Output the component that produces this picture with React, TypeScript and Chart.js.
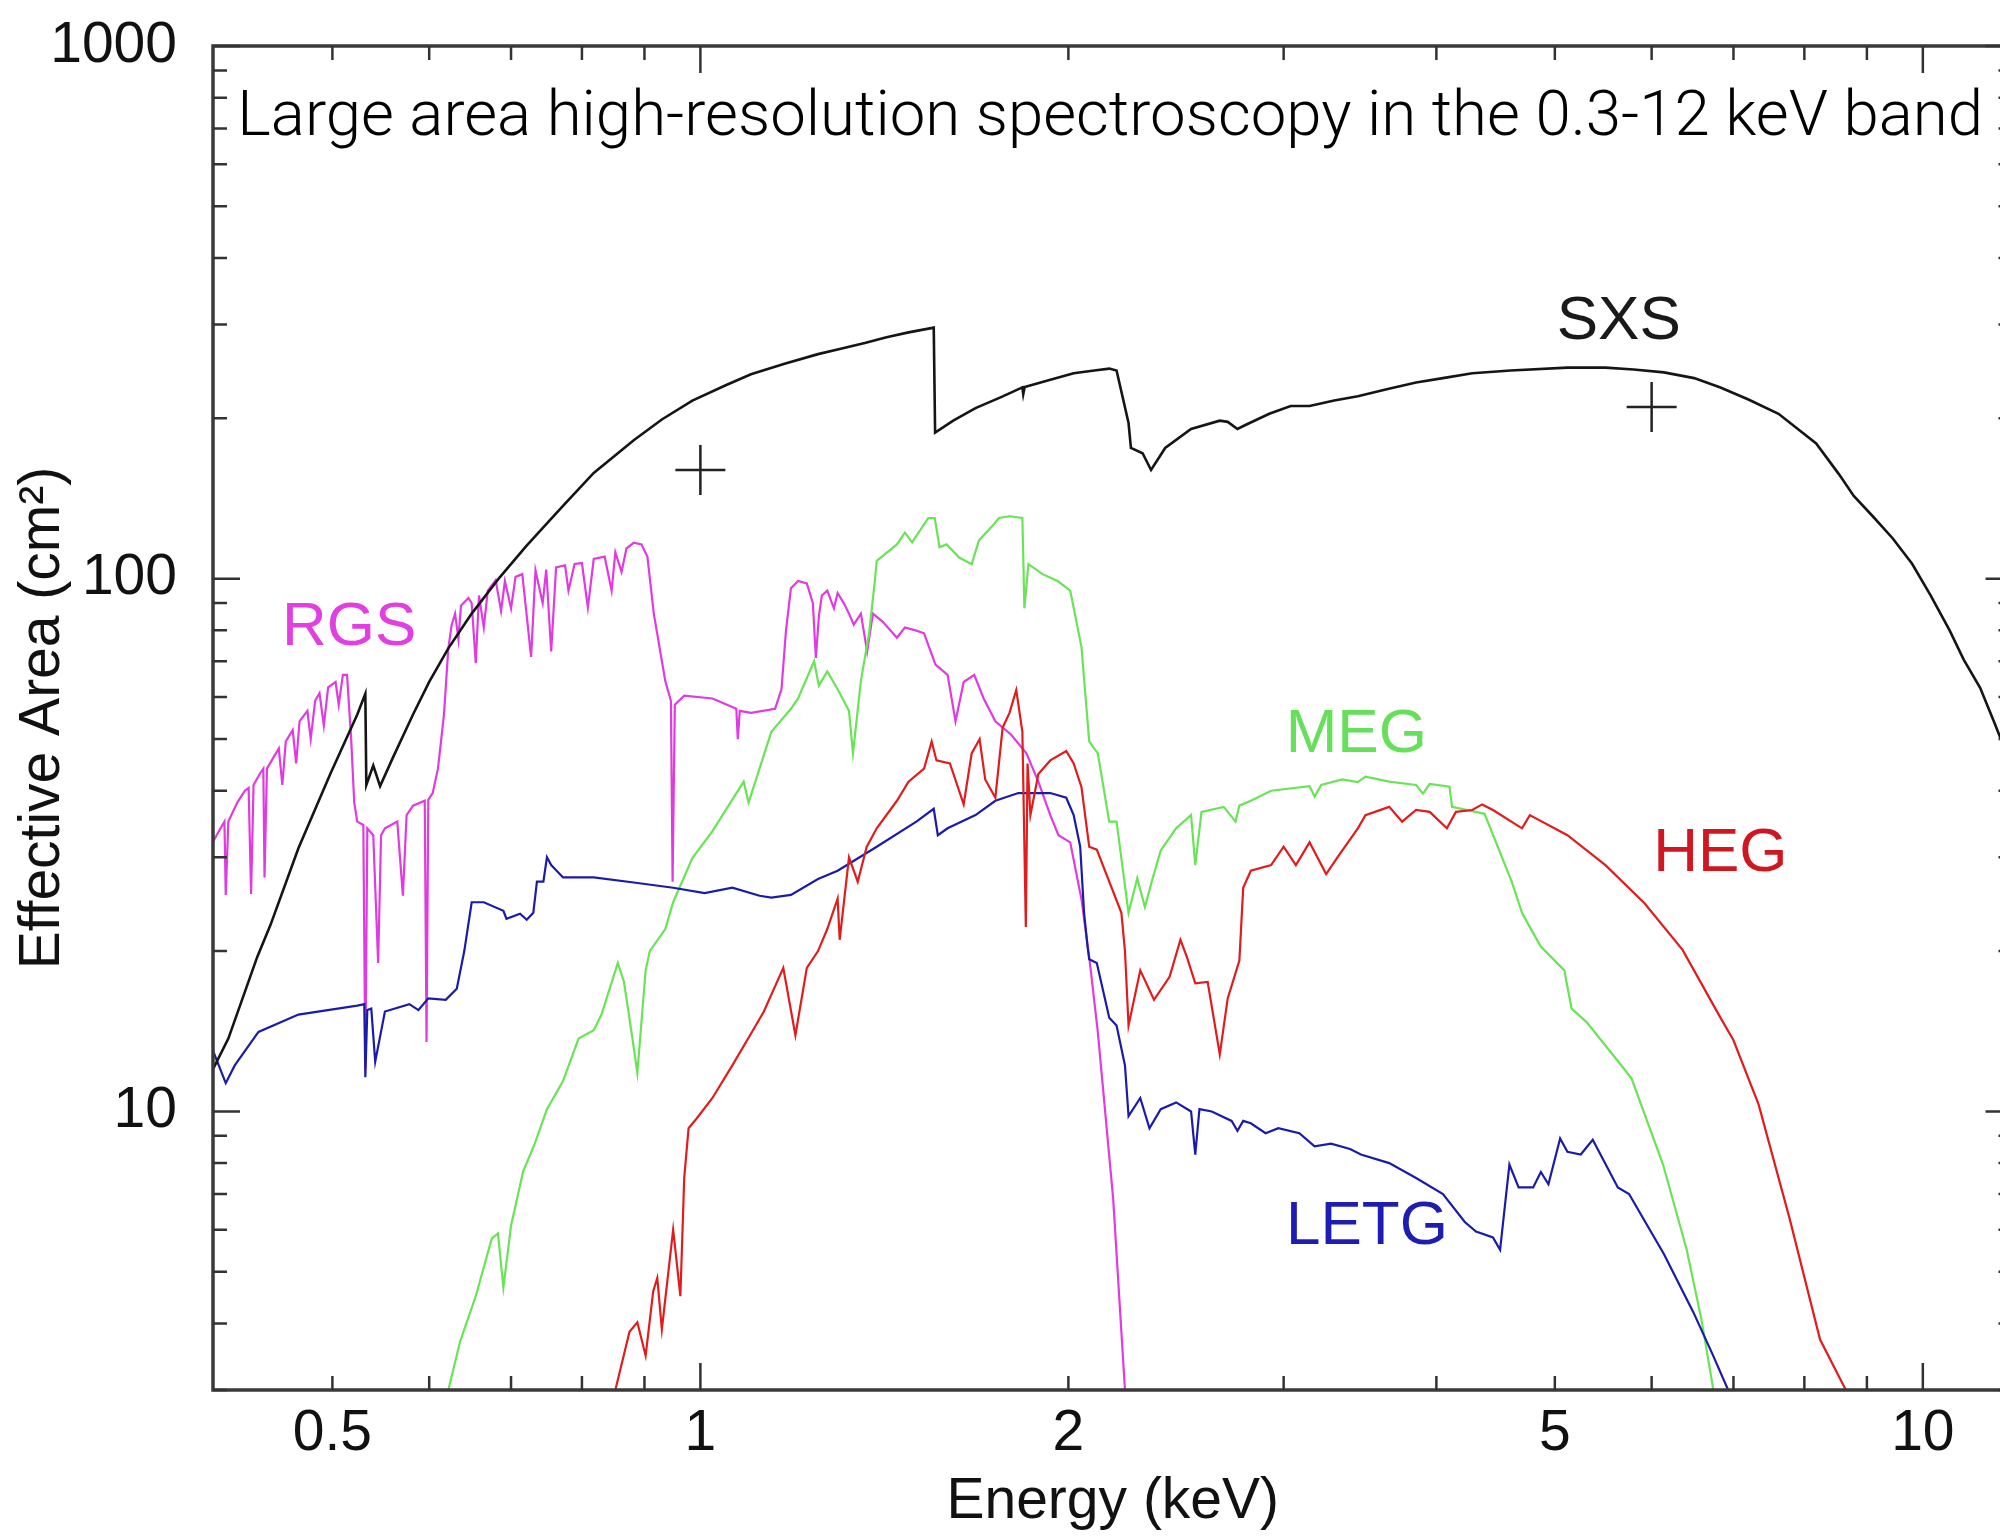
import React, { useEffect, useRef } from 'react';
import { Chart, registerables } from 'chart.js';

Chart.register(...registerables);

// ---------------- data (energy in keV, effective area in cm^2) ----------------
const sxsEnergy = [0.3993, 0.411, 0.434, 0.445, 0.469, 0.498, 0.524, 0.532, 0.533, 0.540,
  0.547, 0.560, 0.582, 0.600, 0.622, 0.650, 0.685, 0.720, 0.749, 0.772,
  0.818, 0.882, 0.930, 0.985, 1.050, 1.10, 1.170, 1.248, 1.300, 1.363,
  1.420, 1.480, 1.552, 1.556, 1.610, 1.679, 1.760, 1.834, 1.837, 1.842,
  1.930, 2.02, 2.10, 2.16, 2.19, 2.24, 2.25, 2.30, 2.337, 2.40,
  2.52, 2.66, 2.70, 2.75, 2.80, 2.92, 3.04, 3.15, 3.30, 3.45,
  3.65, 3.85, 4.05, 4.28, 4.60, 5.12, 5.50, 5.80, 6.14, 6.50,
  6.83, 7.20, 7.62, 8.18, 8.54, 8.78, 9.10, 9.45, 9.80, 10.15,
  10.52, 10.80, 11.14, 11.45, 11.84];
const sxsArea = [12, 13.7, 19.5, 22.4, 31.2, 43, 55.6, 60.8, 41, 44.6,
  40.8, 46, 55.6, 64, 74, 86, 100.5, 115, 127, 137,
  158, 182, 199, 216, 231, 242, 253, 264, 270, 277,
  284, 290, 296, 188, 198, 209, 219, 228.6, 222, 229,
  236, 243, 246, 248, 246, 196, 176, 172, 160, 176,
  191, 198, 197, 191, 195, 204, 211, 211, 216, 220,
  227, 233.5, 238, 243, 246, 249, 249, 247, 244, 238,
  228.6, 217, 204, 179.5, 157, 143, 131, 119, 106.7, 93,
  79.9, 70.5, 62.4, 53.5, 44];

const rgsEnergy = [0.399, 0.405, 0.408, 0.409, 0.411, 0.418, 0.424, 0.427, 0.429, 0.431,
  0.436, 0.439, 0.440, 0.442, 0.447, 0.452, 0.455, 0.458, 0.464, 0.467,
  0.470, 0.477, 0.480, 0.484, 0.488, 0.492, 0.496, 0.503, 0.506, 0.510,
  0.514, 0.518, 0.521, 0.524, 0.530, 0.532, 0.534, 0.540, 0.545, 0.548,
  0.552, 0.565, 0.571, 0.575, 0.582, 0.595, 0.597, 0.599, 0.604, 0.610,
  0.617, 0.622, 0.626, 0.630, 0.634, 0.637, 0.646, 0.650, 0.655, 0.659,
  0.665, 0.670, 0.680, 0.687, 0.692, 0.700, 0.706, 0.715, 0.727, 0.733,
  0.743, 0.748, 0.755, 0.762, 0.775, 0.780, 0.789, 0.800, 0.809, 0.818,
  0.835, 0.846, 0.852, 0.862, 0.870, 0.882, 0.895, 0.905, 0.916, 0.936,
  0.946, 0.949, 0.953, 0.970, 1.023, 1.070, 1.073, 1.077, 1.100, 1.151,
  1.165, 1.175, 1.186, 1.202, 1.222, 1.236, 1.243, 1.250, 1.257, 1.270,
  1.286, 1.295, 1.310, 1.323, 1.335, 1.353, 1.369, 1.384, 1.410, 1.448,
  1.470, 1.500, 1.524, 1.557, 1.593, 1.617, 1.642, 1.675, 1.705, 1.743,
  1.795, 1.848, 1.890, 1.933, 1.963, 2.007, 2.050, 2.080, 2.114, 2.176,
  2.225];
const rgsArea = [32, 34, 35, 25.5, 35, 38, 40, 40.5, 25.6, 41,
  43, 44, 27.5, 44, 46, 48, 41, 49.5, 52, 45,
  54, 56.5, 50, 59, 61, 53, 62.5, 64, 58, 66,
  66, 50, 38, 35, 34.5, 12, 34, 33, 19, 33,
  34, 35, 25.4, 36, 37.5, 38.3, 13.5, 38.5, 39.6, 44,
  55.7, 74, 82, 86, 77, 89, 92, 90, 69.4, 93,
  81, 95, 99.4, 87, 99, 88, 100.8, 102, 71.3, 103.6,
  90, 104, 73, 105, 106, 95, 106.6, 107, 88.3, 108.9,
  110, 95, 112, 103, 114, 116.8, 116, 110, 86, 64.3,
  59, 27, 58, 60.3, 59.6, 57, 50, 56.5, 56, 57,
  62, 80, 96, 99, 98, 90, 71, 85, 93, 95,
  88, 94, 90, 86, 82, 86, 73, 86, 83, 77.5,
  81, 80, 79, 69, 66, 54, 64, 66, 59.6, 54,
  51, 47, 41.6, 36, 33, 32, 25, 19.5, 14.1, 6.86,
  3.0];

const megEnergy = [0.622, 0.636, 0.655, 0.675, 0.683, 0.690, 0.700, 0.716, 0.732, 0.749,
  0.772, 0.795, 0.818, 0.830, 0.856, 0.866, 0.882, 0.888, 0.902, 0.909,
  0.936, 0.950, 0.985, 1.023, 1.085, 1.095, 1.143, 1.186, 1.202, 1.232,
  1.239, 1.250, 1.270, 1.295, 1.323, 1.333, 1.353, 1.374, 1.389, 1.394,
  1.448, 1.470, 1.490, 1.536, 1.555, 1.569, 1.590, 1.628, 1.667, 1.690,
  1.730, 1.755, 1.790, 1.834, 1.841, 1.855, 1.905, 1.960, 2.007, 2.050,
  2.080, 2.114, 2.160, 2.190, 2.240, 2.277, 2.310, 2.340, 2.380, 2.450,
  2.520, 2.540, 2.570, 2.680, 2.740, 2.760, 2.820, 2.930, 3.150, 3.180,
  3.220, 3.350, 3.450, 3.500, 3.660, 3.850, 3.900, 3.950, 4.100, 4.120,
  4.380, 4.610, 4.700, 4.790, 4.870, 5.090, 5.160, 5.310, 5.700, 5.780,
  6.130, 6.410, 6.590, 6.740];
const megArea = [3.0, 3.7, 4.5, 5.77, 5.9, 4.67, 6.1, 7.7, 8.7, 10.1,
  11.4, 13.7, 14.2, 15.2, 19, 17.5, 13.2, 11.8, 18.4, 20,
  22, 24.7, 29.9, 33.6, 41.6, 38, 51.6, 57, 59.6, 68,
  70, 63, 67, 62, 56.5, 47, 64.3, 79, 99, 108,
  116, 122, 117, 130, 130, 114.6, 116, 109.6, 106.5, 118,
  125, 130, 131, 130, 88, 106.5, 102, 99, 95, 74.4,
  49.5, 47, 35, 35, 23.6, 27.4, 24.2, 27, 30.9, 34,
  36, 29, 36.5, 37.3, 35, 37.5, 38.3, 40, 40.8, 39,
  41, 42, 41.5, 42.5, 41.6, 41, 39.5, 41.2, 40.7, 37.3,
  36.2, 27, 23.6, 21.8, 20.4, 18.4, 15.6, 14.7, 12.0, 11.5,
  7.95, 5.5, 4.07, 3.0];

const hegEnergy = [0.852, 0.875, 0.888, 0.902, 0.915, 0.922, 0.930, 0.950, 0.963, 0.970,
  0.978, 0.993, 1.023, 1.062, 1.102, 1.127, 1.169, 1.196, 1.222, 1.248,
  1.270, 1.295, 1.300, 1.323, 1.345, 1.368, 1.394, 1.448, 1.480, 1.524,
  1.546, 1.560, 1.600, 1.642, 1.667, 1.692, 1.710, 1.743, 1.767, 1.790,
  1.813, 1.834, 1.846, 1.852, 1.862, 1.890, 1.933, 1.992, 2.020, 2.050,
  2.080, 2.110, 2.160, 2.210, 2.225, 2.240, 2.290, 2.350, 2.420, 2.470,
  2.500, 2.540, 2.600, 2.660, 2.700, 2.760, 2.780, 2.820, 2.930, 3.000,
  3.070, 3.150, 3.250, 3.320, 3.450, 3.500, 3.660, 3.750, 3.850, 3.950,
  4.080, 4.150, 4.280, 4.360, 4.450, 4.700, 4.770, 5.120, 5.500, 5.920,
  6.360, 6.830, 7.000, 7.340, 7.780, 8.240, 8.650];
const hegArea = [3.0, 3.86, 4.02, 3.48, 4.6, 4.87, 3.9, 6.0, 4.5, 7.5,
  9.3, 9.7, 10.6, 12.2, 14.1, 15.4, 18.6, 13.9, 18.6, 20,
  22, 25.1, 21, 30, 27, 31.4, 34, 38.3, 41.6, 44,
  49.5, 45.6, 45, 37.7, 47, 50, 42, 38.8, 52.5, 56,
  61.8, 51.6, 22.2, 45, 36, 43, 45.6, 47.5, 45, 40.6,
  31.4, 31, 27, 23.6, 20, 14.5, 18.4, 16.2, 17.9, 21,
  19.5, 17.4, 17.5, 12.8, 16.3, 19.2, 26.3, 28.3, 29, 31.4,
  29, 32, 27.9, 30, 34, 36, 37.3, 35, 36.8, 36.5,
  34, 36.5, 36.8, 37.7, 36.8, 34, 36, 33, 29, 24.6,
  20.1, 15, 13.6, 10.3, 6.3, 3.73, 3.0];

const letgEnergy = [0.3993, 0.409, 0.416, 0.435, 0.469, 0.524, 0.531, 0.532, 0.534, 0.538,
  0.542, 0.552, 0.578, 0.588, 0.599, 0.619, 0.632, 0.641, 0.650, 0.665,
  0.690, 0.694, 0.712, 0.721, 0.730, 0.735, 0.744, 0.749, 0.755, 0.772,
  0.818, 0.882, 0.950, 1.008, 1.062, 1.118, 1.143, 1.186, 1.248, 1.295,
  1.394, 1.502, 1.552, 1.564, 1.593, 1.679, 1.743, 1.820, 1.933, 1.992,
  2.020, 2.045, 2.060, 2.073, 2.080, 2.110, 2.160, 2.190, 2.225, 2.240,
  2.290, 2.330, 2.380, 2.450, 2.520, 2.540, 2.560, 2.620, 2.720, 2.750,
  2.780, 2.820, 2.900, 2.970, 3.090, 3.180, 3.280, 3.400, 3.470, 3.660,
  3.850, 4.050, 4.220, 4.310, 4.450, 4.510, 4.590, 4.670, 4.800, 4.870,
  4.940, 5.050, 5.120, 5.250, 5.370, 5.630, 5.750, 6.140, 6.490, 6.730, 6.930];
const letgArea = [13, 11.3, 12.2, 14.1, 15.2, 15.8, 15.9, 11.6, 15.5, 15.6,
  12.4, 15.4, 15.9, 15.5, 16.3, 16.2, 17, 20, 24.7, 24.7,
  23.8, 23, 23.5, 22.9, 23.6, 27, 27, 30, 29, 27.5,
  27.5, 26.9, 26.3, 25.7, 26.3, 25.4, 25.2, 25.5, 27.3, 28.3,
  31.4, 35, 37, 33, 34, 36, 38.3, 39.6, 39.6, 38.8,
  36, 31.4, 23.6, 20.5, 19.3, 19, 15, 14.5, 12.2, 9.8,
  10.6, 9.3, 10.1, 10.4, 10, 8.3, 10.1, 10, 9.6, 9.2,
  9.6, 9.5, 9.1, 9.3, 9.1, 8.6, 8.7, 8.5, 8.3, 8.0,
  7.5, 7.0, 6.2, 5.95, 5.8, 5.5, 7.95, 7.2, 7.2, 7.7,
  7.3, 8.9, 8.4, 8.3, 8.85, 7.2, 7.0, 5.4, 4.2, 3.5, 3.0];

const crossEnergy = [1.0, 6.0];
const crossArea = [160, 210];

const labelNames = ['SXS', 'RGS', 'MEG', 'HEG', 'LETG'];
const labelEnergy = [5.64, 0.516, 3.44, 6.83, 3.51];
const labelArea = [304, 80.9, 50.9, 30.5, 6.08];

const titleText = 'Large area high-resolution spectroscopy in the 0.3-12 keV band';
const titleStartEnergy = 0.418;
const titleEndEnergy = 11.2;
const titleArea = 680;

const xTickValues = [0.5, 0.6, 0.7, 0.8, 0.9, 1, 2, 3, 4, 5, 6, 7, 8, 9, 10];
const xTickLabels = ['0.5', '', '', '', '', '1', '2', '', '', '5', '', '', '', '', '10'];
const xMajorTicks = [1, 10];
const yTickValues = [3, 4, 5, 6, 7, 8, 9, 10, 20, 30, 40, 50, 60, 70, 80, 90, 100,
  200, 300, 400, 500, 600, 700, 800, 900, 1000];
const yTickLabels = ['', '', '', '', '', '', '', '10', '', '', '', '', '', '', '', '', '100',
  '', '', '', '', '', '', '', '', '1000'];
const yMajorTicks = [10, 100, 1000];

// ---------------- styles ----------------
const COLORS = {
  sxs: '#151515',
  rgs: '#e03be0',
  meg: '#6ae457',
  heg: '#e01c1c',
  letg: '#1b1bab',
};
const labelColors = ['#1a1a1a', '#e23fe2', '#66e05a', '#d0171f', '#1d1db3'];
const SANS = '"Liberation Sans", Arial, Helvetica, sans-serif';

const W = 2040;
const H = 1539;

const pts = (xs: number[], ys: number[]) => xs.map((x, i) => ({ x, y: ys[i] }));

const labelOf = (vals: number[], labels: string[]) => (v: number) => {
  const i = vals.findIndex((t) => Math.abs(t - v) < 1e-9 * Math.max(1, t));
  return i >= 0 ? labels[i] : '';
};

const framePlugin = {
  id: 'frameAndLabels',
  afterDraw(chart: any) {
    const { ctx, chartArea } = chart;
    const { left, right, top, bottom } = chartArea;
    const xs = chart.scales.x;
    const ys = chart.scales.y;
    ctx.save();

    // curve labels
    ctx.font = `62px ${SANS}`;
    ctx.textAlign = 'center';
    ctx.textBaseline = 'middle';
    labelNames.forEach((name, i) => {
      ctx.fillStyle = labelColors[i];
      ctx.fillText(name, xs.getPixelForValue(labelEnergy[i]), ys.getPixelForValue(labelArea[i]));
    });

    // in-plot title, fitted between its start and end energies
    ctx.save();
    ctx.font = `300 63px Roboto, "Open Sans", ${SANS}`;
    ctx.textAlign = 'left';
    ctx.textBaseline = 'alphabetic';
    ctx.fillStyle = '#000';
    const tx0 = xs.getPixelForValue(titleStartEnergy);
    const tx1 = xs.getPixelForValue(titleEndEnergy);
    const ty = ys.getPixelForValue(titleArea);
    const tw = ctx.measureText(titleText).width || 1;
    ctx.translate(tx0, ty);
    ctx.scale((tx1 - tx0) / tw, 1);
    ctx.fillText(titleText, 0, 0);
    ctx.restore();

    // frame
    ctx.strokeStyle = '#3a3a3a';
    ctx.lineWidth = 3.5;
    ctx.strokeRect(left, top, right - left, bottom - top);

    // inward ticks on all sides
    ctx.lineWidth = 2.5;
    ctx.strokeStyle = '#333';
    ctx.beginPath();
    xTickValues.forEach((v) => {
      const px = xs.getPixelForValue(v);
      const len = xMajorTicks.includes(v) ? 27 : 14;
      ctx.moveTo(px, bottom);
      ctx.lineTo(px, bottom - len);
      ctx.moveTo(px, top);
      ctx.lineTo(px, top + len);
    });
    yTickValues.forEach((v) => {
      const py = ys.getPixelForValue(v);
      const len = yMajorTicks.includes(v) ? 27 : 14;
      ctx.moveTo(left, py);
      ctx.lineTo(left + len, py);
      ctx.moveTo(right, py);
      ctx.lineTo(right - len, py);
    });
    ctx.stroke();
    ctx.restore();
  },
};

export default function App() {
  const canvasRef = useRef<HTMLCanvasElement | null>(null);

  useEffect(() => {
    const canvas = canvasRef.current;
    if (!canvas) return;
    const lineDs = (label: string, xsArr: number[], ysArr: number[], color: string, width: number) => ({
      label,
      data: pts(xsArr, ysArr),
      borderColor: color,
      backgroundColor: color,
      borderWidth: width,
      pointRadius: 0,
      tension: 0,
      fill: false,
    });

    const chart = new Chart(canvas, {
      type: 'line',
      data: {
        datasets: [
          {
            type: 'scatter',
            label: 'markers',
            data: pts(crossEnergy, crossArea),
            pointStyle: 'cross',
            pointRadius: 25,
            borderColor: '#222',
            borderWidth: 2.5,
            showLine: false,
          } as any,
          lineDs('SXS', sxsEnergy, sxsArea, COLORS.sxs, 2.6),
          lineDs('HEG', hegEnergy, hegArea, COLORS.heg, 2.2),
          lineDs('LETG', letgEnergy, letgArea, COLORS.letg, 2.2),
          lineDs('MEG', megEnergy, megArea, COLORS.meg, 2.2),
          lineDs('RGS', rgsEnergy, rgsArea, COLORS.rgs, 2.2),
        ],
      },
      options: {
        responsive: false,
        animation: false,
        devicePixelRatio: 1,
        layout: { padding: { top: 46, right: 22, left: 0, bottom: 0 } },
        plugins: {
          legend: { display: false },
          tooltip: { enabled: false },
          title: { display: false },
        },
        scales: {
          x: {
            type: 'logarithmic',
            min: 0.3993,
            max: 11.84,
            afterBuildTicks: (s: any) => {
              s.ticks = xTickValues.map((v) => ({ value: v }));
            },
            afterFit: (s: any) => {
              s.height = 149;
              s.paddingLeft = 0;
              s.paddingRight = 0;
            },
            grid: { display: false, drawTicks: false },
            border: { display: false },
            ticks: {
              autoSkip: false,
              maxRotation: 0,
              minRotation: 0,
              padding: 10,
              color: '#111',
              font: { family: SANS, size: 57 },
              callback: (v: any) => labelOf(xTickValues, xTickLabels)(Number(v)),
            },
            title: {
              display: true,
              text: 'Energy (keV)',
              color: '#111',
              font: { family: SANS, size: 57 },
              padding: { top: 0, bottom: 3 },
            },
          },
          y: {
            type: 'logarithmic',
            min: 3,
            max: 1000,
            afterBuildTicks: (s: any) => {
              s.ticks = yTickValues.map((v) => ({ value: v }));
            },
            afterFit: (s: any) => {
              s.width = 213;
              s.paddingTop = 0;
              s.paddingBottom = 0;
            },
            grid: { display: false, drawTicks: false },
            border: { display: false },
            ticks: {
              autoSkip: false,
              padding: 36,
              color: '#111',
              font: { family: SANS, size: 57 },
              callback: (v: any) => labelOf(yTickValues, yTickLabels)(Number(v)),
            },
            title: {
              display: true,
              text: 'Effective Area (cm²)',
              color: '#111',
              font: { family: SANS, size: 57 },
              padding: { top: 9, bottom: 0 },
            },
          },
        },
      } as any,
      plugins: [framePlugin],
    });

    return () => chart.destroy();
  }, []);

  return (
    <div
      style={{
        position: 'fixed',
        left: 0,
        top: 0,
        width: 2000,
        height: 1539,
        overflow: 'hidden',
        background: '#fff',
      }}
    >
      <canvas ref={canvasRef} width={W} height={H} style={{ width: W, height: H, display: 'block' }} />
    </div>
  );
}
